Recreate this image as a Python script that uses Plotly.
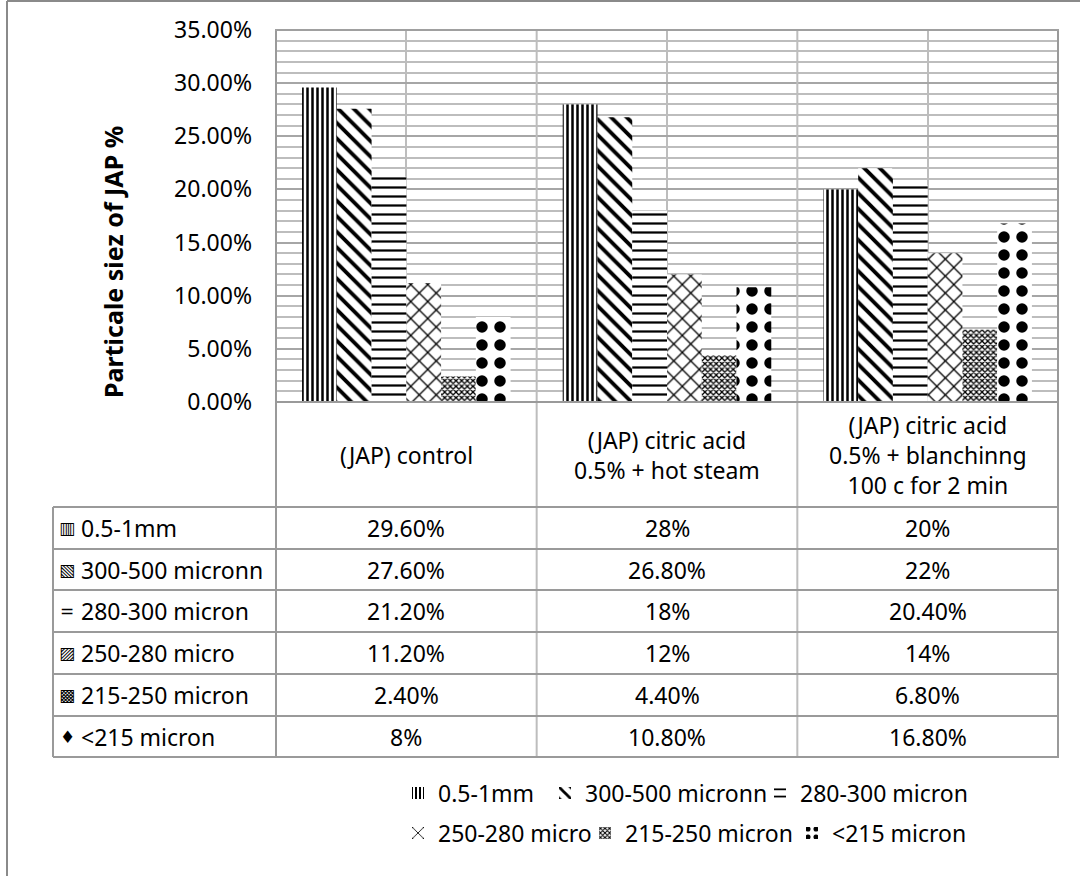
import plotly.graph_objects as go

W, H = 1080, 876

categories = ["(JAP) control",
              "(JAP) citric acid<br>0.5% + hot steam",
              "(JAP) citric acid<br>0.5% + blanchinng<br>100 c for 2 min"]
series_names = ["0.5-1mm", "300-500 micronn", "280-300 micron",
                "250-280 micro", "215-250 micron", "<215 micron"]
v_05_1mm = [0.296, 0.28, 0.20]
v_300_500 = [0.276, 0.268, 0.22]
v_280_300 = [0.212, 0.18, 0.204]
v_250_280 = [0.112, 0.12, 0.14]
v_215_250 = [0.024, 0.044, 0.068]
v_lt215 = [0.08, 0.108, 0.168]
series_values = [v_05_1mm, v_300_500, v_280_300, v_250_280, v_215_250, v_lt215]
row_icons = ["▥", "▧", "=", "▨", "▩", "♦"]
y_ticks = [0, 0.05, 0.10, 0.15, 0.20, 0.25, 0.30, 0.35]

patterns = [
    dict(shape="|", size=5, solidity=0.5),
    dict(shape="\\", size=11, solidity=0.35),
    dict(shape="-", size=9, solidity=0.25),
    dict(shape="x", size=12, solidity=0.2),
    dict(shape="x", size=4, solidity=0.55),
    dict(shape=".", size=18, solidity=0.32),
]

FONT = "Noto Sans, Open Sans, sans-serif"
FS = 23


def px(x):
    return x / W


def py(y):
    return 1 - y / H


# legend entry placement (left x of the legend box, centre y of the row), in pixels
legend_pos = [(398, 793), (545, 793), (760, 793), (398, 833), (585, 833), (792, 833)]
legend_ids = ["legend"] + [f"legend{k}" for k in range(2, 7)]

fig = go.Figure()
for i, (name, vals) in enumerate(zip(series_names, series_values)):
    p = patterns[i]
    fig.add_trace(go.Bar(
        x=categories, y=vals, name=name,
        marker=dict(color="white", line=dict(width=0),
                    pattern=dict(shape=p["shape"], size=p["size"], solidity=p["solidity"],
                                 fgcolor="black", bgcolor="white", fillmode="replace")),
        legend=legend_ids[i],
    ))


def fmt(v):
    pct = round(v * 100, 4)
    if abs(pct - round(pct)) < 1e-9:
        return f"{int(round(pct))}%"
    return f"{pct:.2f}%"


X0, X1 = 275, 1059
Y0, Y1 = 30, 402
TL = 53
row_lines = [402, 507, 549, 590, 632, 674, 716, 757]
GRID = "#bdbdbd"
TBL = "#9a9a9a"

shapes = []
# outer frame
shapes.append(dict(type="line", xref="paper", yref="paper", x0=px(7), x1=1, y0=py(1), y1=py(1),
                   line=dict(color="#8a8a8a", width=2)))
shapes.append(dict(type="line", xref="paper", yref="paper", x0=px(7), x1=px(7), y0=py(1), y1=0,
                   line=dict(color="#8a8a8a", width=2)))
# category boundary lines through plot + table
for k in range(len(categories) + 1):
    shapes.append(dict(type="line", xref="x", yref="paper", x0=k - 0.5, x1=k - 0.5,
                       y0=py(row_lines[-1]), y1=py(Y0),
                       line=dict(color=TBL if k in (0, len(categories)) else GRID, width=2)))
# plot top border
shapes.append(dict(type="line", xref="paper", yref="paper", x0=px(X0), x1=px(X1), y0=py(Y0), y1=py(Y0),
                   line=dict(color="#a0a0a0", width=2)))
# table horizontal lines
for j, yl in enumerate(row_lines):
    xs = X0 if j == 0 else TL
    shapes.append(dict(type="line", xref="paper", yref="paper", x0=px(xs), x1=px(X1), y0=py(yl), y1=py(yl),
                       line=dict(color=TBL, width=2)))
# table left border for data rows
shapes.append(dict(type="line", xref="paper", yref="paper", x0=px(TL), x1=px(TL),
                   y0=py(row_lines[1]), y1=py(row_lines[-1]), line=dict(color=TBL, width=2)))

annotations = []
# header
for c in categories:
    annotations.append(dict(x=c, xref="x", y=py((row_lines[0] + row_lines[1]) / 2), yref="paper",
                            text=c, showarrow=False, xanchor="center", yanchor="middle",
                            font=dict(family=FONT, size=FS, color="black")))
for r, (name, vals) in enumerate(zip(series_names, series_values)):
    yc = py((row_lines[r + 1] + row_lines[r + 2]) / 2)
    annotations.append(dict(x=px(67), xref="paper", y=yc, yref="paper", text=row_icons[r],
                            showarrow=False, xanchor="center", yanchor="middle",
                            font=dict(family="DejaVu Sans", size=17, color="black")))
    annotations.append(dict(x=px(79), xref="paper", y=yc, yref="paper", text=name,
                            showarrow=False, xanchor="left", yanchor="middle",
                            font=dict(family=FONT, size=FS, color="black")))
    for c, v in zip(categories, vals):
        annotations.append(dict(x=c, xref="x", y=yc, yref="paper", text=fmt(v),
                                showarrow=False, xanchor="center", yanchor="middle",
                                font=dict(family=FONT, size=FS, color="black")))
# y axis title
annotations.append(dict(x=px(113), xref="paper", y=py(262), yref="paper",
                        text="<b>Particale siez of JAP %</b>", textangle=-90, showarrow=False,
                        xanchor="center", yanchor="middle",
                        font=dict(family=FONT, size=25, color="black")))

legend_layouts = {}
for lid, (lx, ly) in zip(legend_ids, legend_pos):
    legend_layouts[lid] = dict(orientation="h", x=px(lx), xanchor="left", y=py(ly), yanchor="middle",
                               font=dict(family=FONT, size=FS, color="black"),
                               bgcolor="rgba(0,0,0,0)", itemwidth=30)

fig.update_layout(
    width=W, height=H,
    margin=dict(l=0, r=0, t=0, b=0, autoexpand=False),
    paper_bgcolor="white", plot_bgcolor="white",
    barmode="group", bargap=0.2, bargroupgap=0,
    shapes=shapes, annotations=annotations,
    xaxis=dict(domain=[px(X0), px(X1)], showticklabels=False, ticks="", automargin=False,
               showgrid=True, gridcolor=GRID, gridwidth=2, showline=False, zeroline=False),
    yaxis=dict(domain=[py(Y1), py(Y0)], range=[0, 0.35], tickvals=y_ticks, tickformat=".2%",
               tickfont=dict(family=FONT, size=FS, color="black"), ticks="", ticklabelstandoff=22,
               automargin=False,
               showgrid=True, gridcolor="#a6a6a6", gridwidth=2, zeroline=False, showline=False,
               minor=dict(dtick=0.01, showgrid=True, gridcolor=GRID, gridwidth=1.5)),
    showlegend=True,
    **legend_layouts,
)

fig.write_html("out.html")
